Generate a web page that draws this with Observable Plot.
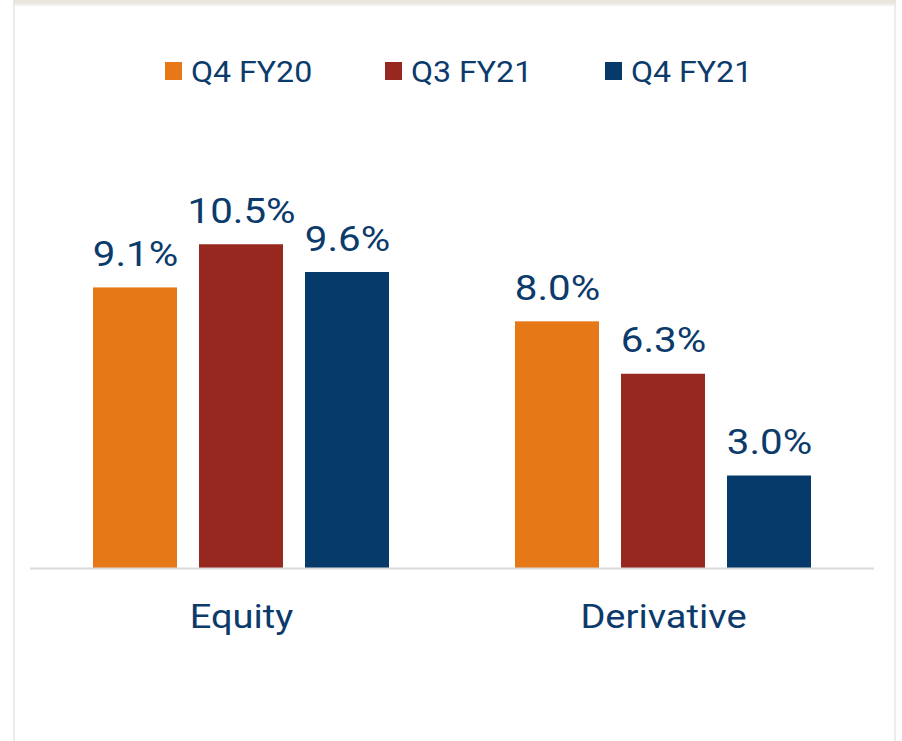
<!DOCTYPE html>
<html>
<head>
<meta charset="utf-8">
<script src="https://cdn.jsdelivr.net/npm/d3@7"></script>
<script src="https://cdn.jsdelivr.net/npm/@observablehq/plot@0.6"></script>
<style>
  html, body { margin: 0; padding: 0; background: #ffffff; }
  #page { position: relative; width: 902px; height: 741px; overflow: hidden; background: #fff; }
  .band { position: absolute; left: 13px; width: 883px; top: 0; height: 4px; background: #e9e6de; }
  .bandline { position: absolute; left: 13px; width: 883px; top: 4px; height: 2px; background: #f1f1f1; }
  .vborder { position: absolute; top: 4px; bottom: 0; width: 2px; background: #ececec; }
  #legend { position: absolute; top: 51px; left: 165px; height: 40px; display: flex; align-items: center; }
  .item { width: 220px; display: flex; align-items: center; }
  .sw { width: 17px; height: 18px; margin-right: 9px; flex: none; }
  .lab { font-family: Roboto, sans-serif; font-size: 30px; color: #0c3b6b; transform: scaleX(1.07); transform-origin: left center; white-space: nowrap; }
  #chart { position: absolute; left: 0; top: 110px; }
</style>
</head>
<body>
<div id="page">
  <div class="band"></div>
  <div class="bandline"></div>
  <div class="vborder" style="left:13px"></div>
  <div class="vborder" style="left:894px"></div>
  <div id="legend"></div>
  <div id="chart"></div>
</div>
<script>
const segments = ["Equity", "Derivative"];
const periods = ["Q4 FY20", "Q3 FY21", "Q4 FY21"];
const colors = ["#e77817", "#962820", "#063a6b"];
const equityValues = [9.1, 10.5, 9.6];
const derivativeValues = [8.0, 6.3, 3.0];

const data = [];
periods.forEach((p, i) => data.push({segment: "Equity", period: p, value: equityValues[i]}));
periods.forEach((p, i) => data.push({segment: "Derivative", period: p, value: derivativeValues[i]}));

// legend
const legend = d3.select("#legend");
periods.forEach((p, i) => {
  const it = legend.append("div").attr("class", "item");
  it.append("div").attr("class", "sw").style("background", colors[i]);
  it.append("span").attr("class", "lab").text(p);
});

const textColor = "#0c3b6b";

const chart = Plot.plot({
  width: 902,
  height: 631,
  marginLeft: 30,
  marginRight: 28,
  marginTop: 88,
  marginBottom: 173,
  style: {background: "transparent", overflow: "visible"},
  fx: {domain: segments, padding: 0},
  x: {domain: periods, paddingInner: 0.211, paddingOuter: 0.587, axis: null},
  y: {domain: [0, 12], axis: null},
  color: {domain: periods, range: colors},
  marks: [
    Plot.barY(data, {fx: "segment", x: "period", y: "value", fill: "period"}),
    Plot.ruleY([0], {stroke: "#d9d9d9", strokeWidth: 2}),
    Plot.text(data, {
      fx: "segment", x: "period", y: "value",
      text: d => d.value.toFixed(1) + "%",
      lineAnchor: "bottom", dy: -22,
      fontSize: 35, fontFamily: "Roboto, sans-serif", fill: textColor
    }),
    Plot.axisFx({anchor: "bottom", tickSize: 0, tickPadding: 35, fontSize: 34, fontFamily: "Roboto, sans-serif", color: textColor, label: null})
  ]
});
document.getElementById("chart").appendChild(chart);

function stretch(nodes, k) {
  nodes.forEach(t => {
    const b = t.getBBox();
    const cx = b.x + b.width / 2;
    const tr = t.getAttribute("transform") || "";
    t.setAttribute("transform", `${tr} translate(${cx},0) scale(${k},1) translate(${-cx},0)`);
  });
}
stretch(chart.querySelectorAll('g[aria-label="text"] text'), 1.15);
stretch(chart.querySelectorAll('g[aria-label="fx-axis tick label"] text'), 1.12);
chart.querySelectorAll('g[aria-label="fx-axis tick label"] text').forEach(t => t.setAttribute("fill", textColor));
</script>
</body>
</html>
